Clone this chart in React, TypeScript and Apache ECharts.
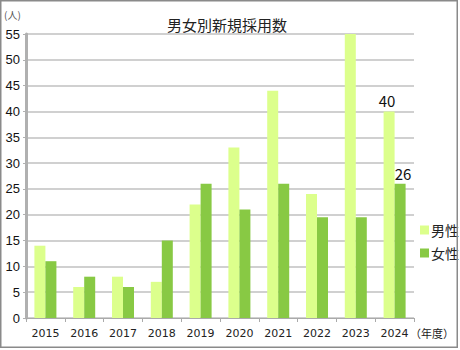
import React, { useEffect, useRef } from "react";
import * as echarts from "echarts";

const years = ["2015", "2016", "2017", "2018", "2019", "2020", "2021", "2022", "2023", "2024"];
const male = [14, 6, 8, 7, 22, 33, 44, 24, 55, 40];
const female = [11, 8, 6, 15, 26, 21, 26, 19.5, 19.5, 26];
const yTicks = [0, 5, 10, 15, 20, 25, 30, 35, 40, 45, 50, 55];
const labelIndex = 9;

const FONT = "'Noto Sans CJK JP', 'Noto Sans', sans-serif";

export default function App() {
  const ref = useRef<HTMLDivElement>(null);
  useEffect(() => {
    const chart = echarts.init(ref.current!, null, { renderer: "svg" });
    chart.setOption({
      animation: false,
      backgroundColor: "#ffffff",
      textStyle: { fontFamily: FONT },
      title: {
        text: "男女別新規採用数",
        left: 222,
        textAlign: "center",
        top: 12,
        textStyle: { fontSize: 15, fontWeight: "normal", color: "#222", fontFamily: FONT },
      },
      legend: {
        orient: "vertical",
        left: 415,
        top: 218,
        itemWidth: 9,
        itemHeight: 9,
        itemGap: 9,
        icon: "rect",
        textStyle: { fontSize: 14, color: "#222", padding: [0, 0, 0, -3] },
        data: ["男性", "女性"],
      },
      grid: { left: 26, right: 46, top: 34, bottom: 32 },
      xAxis: {
        type: "category",
        data: years,
        axisLine: { lineStyle: { color: "#aaaaaa", width: 1 } },
        axisTick: { show: true, length: 4, lineStyle: { color: "#aaaaaa" } },
        axisLabel: { fontSize: 11, color: "#222", margin: 10, fontFamily: "'DejaVu Sans', sans-serif" },
      },
      yAxis: {
        type: "value",
        min: 0,
        max: 55,
        interval: 5,
        axisLine: { show: true, lineStyle: { color: "#b0b0b0", width: 3 } },
        axisTick: { show: true, length: 3, lineStyle: { color: "#b0b0b0" } },
        axisLabel: {
          fontSize: 13,
          color: "#111",
          margin: 6,
          fontFamily: "'Liberation Sans', Arial, sans-serif",
          formatter: (v: number) => (yTicks.includes(v) ? String(v) : ""),
        },
        splitLine: { lineStyle: { color: "#c0c0c0", width: 1.5 } },
      },
      series: [
        {
          name: "男性",
          type: "bar",
          data: male,
          barWidth: 11,
          barGap: "0%",
          itemStyle: { color: "#dcff8c" },
          label: {
            show: true,
            position: "top",
            fontSize: 15,
            color: "#111",
            distance: 3,
            offset: [-2, 0],
            formatter: (p: any) => (p.dataIndex === labelIndex ? String(p.value) : ""),
          },
        },
        {
          name: "女性",
          type: "bar",
          data: female,
          barWidth: 11,
          barGap: "0%",
          itemStyle: { color: "#88c944" },
          label: {
            show: true,
            position: "top",
            fontSize: 15,
            color: "#111",
            distance: 3,
            offset: [3, 0],
            formatter: (p: any) => (p.dataIndex === labelIndex ? String(p.value) : ""),
          },
        },
      ],
      graphic: [
        {
          type: "text",
          left: 4,
          top: 9,
          style: { text: "(人)", fontSize: 10, fill: "#555", fontFamily: FONT },
        },
        {
          type: "text",
          left: 410,
          top: 327,
          style: { text: "（年度）", fontSize: 11, fill: "#222", fontFamily: FONT },
        },
        {
          type: "rect",
          shape: { x: 0.75, y: 0.75, width: 456.5, height: 346.5 },
          style: { fill: "none", stroke: "#8a8a8a", lineWidth: 1.5 },
          silent: true,
          z: 100,
        },
      ],
    });
    return () => chart.dispose();
  }, []);
  return (
    <div
      ref={ref}
      style={{ position: "absolute", left: 0, top: 0, width: 460, height: 350 }}
    />
  );
}
